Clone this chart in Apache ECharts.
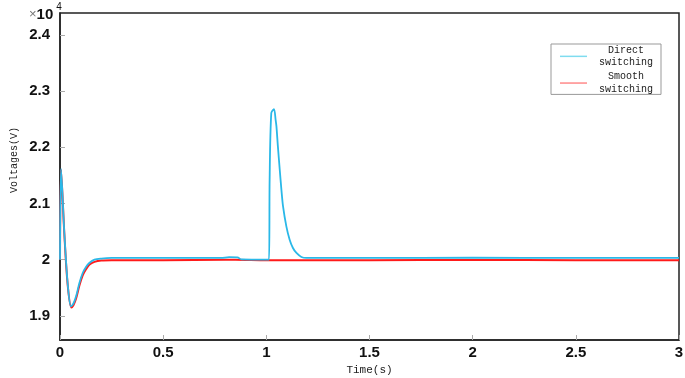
<!DOCTYPE html>
<html>
<head>
<meta charset="utf-8">
<script src="https://cdn.jsdelivr.net/npm/echarts@6/dist/echarts.min.js"></script>
<style>html,body{margin:0;padding:0;background:#fff}#c{width:685px;height:378px}</style>
</head>
<body>
<div id="c"></div>
<script>
// Time (s) and voltage (V)
const directTime = [0, 0.005, 0.021, 0.037, 0.053, 0.065, 0.078, 0.094, 0.110, 0.126, 0.142, 0.167, 0.2, 0.25, 0.5, 0.78, 0.82, 0.86, 0.88, 1.0, 1.013, 1.016, 1.024, 1.037, 1.045, 1.049, 1.056, 1.065, 1.073, 1.081, 1.097, 1.113, 1.129, 1.146, 1.170, 1.194, 1.25, 1.5, 2.0, 2.5, 3.0];
const directVolt = [20000, 21614, 20475, 19585, 19170, 19220, 19347, 19585, 19763, 19870, 19940, 20000, 20020, 20030, 20030, 20030, 20045, 20040, 20005, 20000, 20000, 21420, 22610, 22680, 22490, 22372, 22016, 21601, 21246, 20948, 20593, 20356, 20208, 20119, 20048, 20030, 20030, 20030, 20035, 20030, 20030];
const smoothTime = [0, 0.005, 0.021, 0.037, 0.055, 0.065, 0.078, 0.094, 0.110, 0.126, 0.142, 0.167, 0.2, 0.25, 0.5, 0.8, 0.85, 1.0, 1.5, 2.0, 2.5, 3.0];
const smoothVolt = [20000, 21600, 20460, 19560, 19150, 19190, 19310, 19540, 19720, 19830, 19910, 19960, 19985, 19990, 19990, 20000, 20000, 19990, 19990, 19995, 19990, 19990];
const xTicks = [0, 0.5, 1, 1.5, 2, 2.5, 3];
const yTicks = [19000, 20000, 21000, 22000, 23000, 24000];
const seriesNames = ['Direct switching', 'Smooth switching'];

const zip = (t, v) => t.map((x, i) => [x, v[i]]);
const chart = echarts.init(document.getElementById('c'));
const tickFont = {fontFamily: 'Liberation Sans', fontWeight: 'bold', fontSize: 15, color: '#111'};
chart.setOption({
  animation: false,
  backgroundColor: '#fff',
  grid: {left: 60, right: 6, top: 13, bottom: 38, outerBoundsMode: 'none', containLabel: false,
         show: true, borderColor: '#222', borderWidth: 1.5, backgroundColor: 'transparent'},
  xAxis: {
    type: 'value', min: xTicks[0], max: xTicks[xTicks.length - 1], interval: 0.5,
    axisLine: {lineStyle: {color: '#222', width: 1.5}},
    axisTick: {inside: true, length: 5, lineStyle: {color: '#aaa'}},
    axisLabel: Object.assign({margin: 5}, tickFont),
    splitLine: {show: false},
    name: 'Time(s)', nameLocation: 'middle', nameGap: 25,
    nameTextStyle: {fontFamily: 'Liberation Mono', fontSize: 11, color: '#222'}
  },
  yAxis: {
    type: 'value', min: 18570, max: 24390,
    axisLine: {show: true, lineStyle: {color: '#222', width: 1.5}},
    axisTick: {show: true, inside: true, length: 5, lineStyle: {color: '#aaa'}, customValues: yTicks},
    axisLabel: Object.assign({margin: 10, customValues: yTicks, formatter: v => String(Math.round(v / 1000) / 10)}, tickFont),
    splitLine: {show: false}
  },
  legend: {
    data: [
      {name: seriesNames[0], itemStyle: {color: '#7fdcef'}},
      {name: seriesNames[1], itemStyle: {color: '#ff8a8a'}}
    ],
    icon: 'rect',
    orient: 'vertical', left: 551, top: 44,
    padding: [1, 1, 0, 9], itemGap: 4, itemWidth: 27, itemHeight: 1.5,
    borderColor: '#999', borderWidth: 1, backgroundColor: '#fff',
    formatter: name => name.split(' ').map(w => '{a|' + w + '}').join('\n'),
    textStyle: {rich: {a: {width: 68, align: 'center', fontFamily: 'Liberation Mono', fontSize: 10, lineHeight: 12.7, color: '#222'}}}
  },
  graphic: [
    {type: 'text', x: 14, y: 160, rotation: Math.PI / 2,
     style: {text: 'Voltages(V)', align: 'center', verticalAlign: 'middle', font: '10px "Liberation Mono"', fill: '#222'}},
    {type: 'text', x: 29, y: 2,
     style: {text: '{x|×}{t|10}{e|4}', rich: {x: {font: '13px "Liberation Sans"', fill: '#777', padding: [5, 0, 0, 0]}, t: {font: 'bold 15px "Liberation Sans"', fill: '#111', padding: [5, 0, 0, 0]}, e: {font: '10px "Liberation Sans"', fill: '#111', padding: [0, 0, 10, 3]}}}}
  ],
  series: [
    {name: seriesNames[1], type: 'line', data: zip(smoothTime, smoothVolt), symbol: 'none', smooth: 0.3, z: 2,
     lineStyle: {color: '#ff1a1a', width: 2}, itemStyle: {color: '#ff1a1a'}},
    {name: seriesNames[0], type: 'line', data: zip(directTime, directVolt), symbol: 'none', smooth: 0.3, z: 3,
     lineStyle: {color: '#2ab8e8', width: 1.8}, itemStyle: {color: '#2ab8e8'}}
  ]
});
</script>
</body>
</html>
